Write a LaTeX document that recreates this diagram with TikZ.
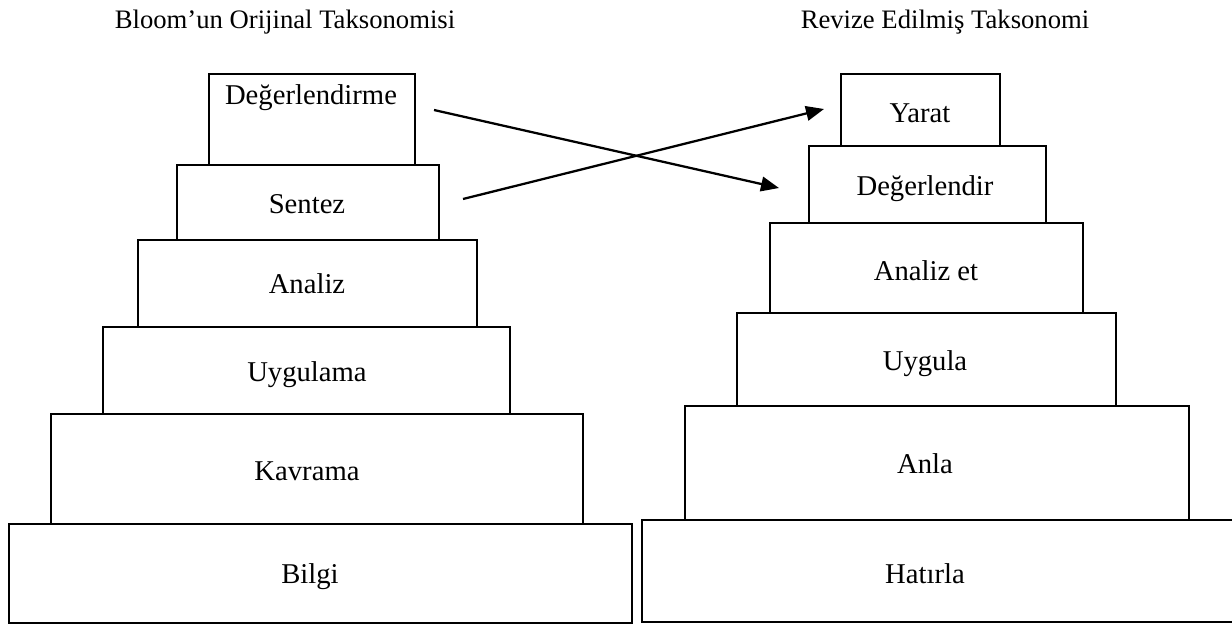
\documentclass[tikz,border=0pt]{standalone}
\usepackage{fontspec}
\setmainfont{Liberation Serif}
\usetikzlibrary{fit,arrows.meta}
\begin{document}
\begin{tikzpicture}[x=0.75pt,y=-0.75pt,
  box/.style={draw=black,line width=1.5pt,inner sep=0pt,rectangle},
  lbl/.style={anchor=base,inner sep=0pt,font=\fontsize{21.5}{25}\selectfont},
  ttl/.style={anchor=base,inner sep=0pt,font=\fontsize{20}{24}\selectfont},
  arr/.style={line width=1.7pt,-{Triangle[length=13.5pt,width=11pt]}}]
\useasboundingbox (0,0) rectangle (1232,626);
% titles
\node[ttl] (t1) at (285,28) {Bloom’un Orijinal Taksonomisi};
\node[ttl] (t2) at (945,28) {Revize Edilmiş Taksonomi};
% left pyramid
\node[box,fit={(209,74) (415,165)}] (l1) {};
\node[box,fit={(177,165) (439,240)}] (l2) {};
\node[box,fit={(138,240) (477,327)}] (l3) {};
\node[box,fit={(103,327) (510,414)}] (l4) {};
\node[box,fit={(51,414) (583,524)}] (l5) {};
\node[box,fit={(9,524) (632,623)}] (l6) {};
\node[lbl] at (311,104) {Değerlendirme};
\node[lbl] at (307,213) {Sentez};
\node[lbl] at (307,293) {Analiz};
\node[lbl] at (307,381) {Uygulama};
\node[lbl] at (307,480) {Kavrama};
\node[lbl] at (310,583) {Bilgi};
% right pyramid
\node[box,fit={(841,74) (1000,146)}] (r1) {};
\node[box,fit={(809,146) (1046,223)}] (r2) {};
\node[box,fit={(770,223) (1083,313)}] (r3) {};
\node[box,fit={(737,313) (1116,406)}] (r4) {};
\node[box,fit={(685,406) (1189,520)}] (r5) {};
\node[box,fit={(642,520) (1240,622)}] (r6) {};
\node[lbl] at (920,122) {Yarat};
\node[lbl] at (925,195) {Değerlendir};
\node[lbl] at (926,280) {Analiz et};
\node[lbl] at (925,370) {Uygula};
\node[lbl] at (925,473) {Anla};
\node[lbl] at (925,583) {Hatırla};
% arrows
\coordinate (a1s) at (434,110);
\coordinate (a1e) at (779,188);
\coordinate (a2s) at (463,199);
\coordinate (a2e) at (824,109);
\draw[arr] (a1s) -- (a1e);
\draw[arr] (a2s) -- (a2e);
\end{tikzpicture}
\end{document}
